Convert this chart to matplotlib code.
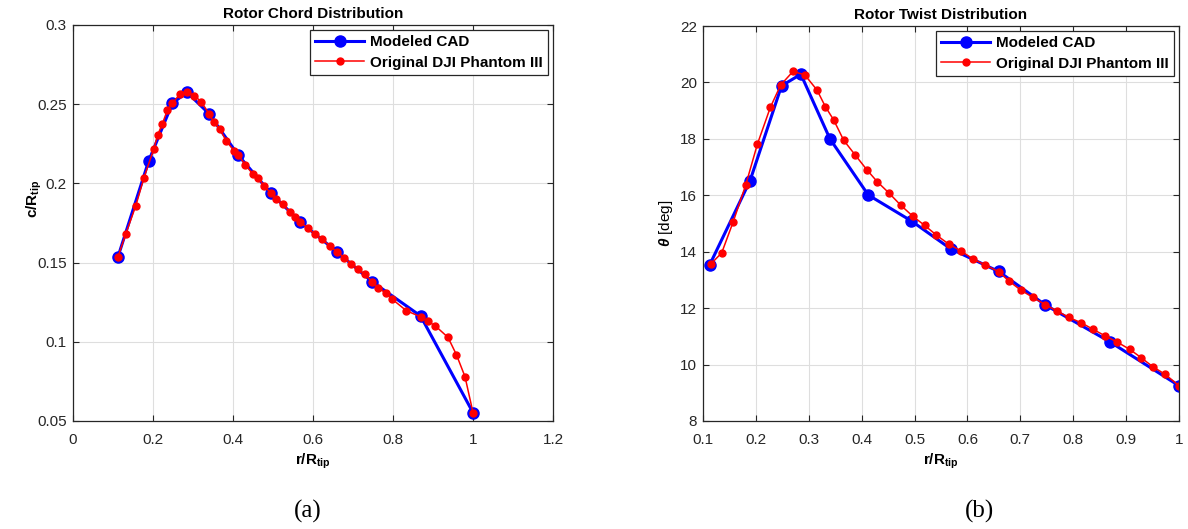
import matplotlib
matplotlib.use("Agg")
import matplotlib.pyplot as plt

plt.rcParams["font.family"] = ["Liberation Sans", "DejaVu Sans"]
plt.rcParams["mathtext.fontset"] = "custom"
plt.rcParams["mathtext.it"] = "Liberation Sans:italic:bold"
plt.rcParams["mathtext.bf"] = "Liberation Sans:bold"

# Modeled CAD stations (r/R_tip)
cad_r = [0.1125, 0.189, 0.2485, 0.285, 0.34, 0.4125, 0.494, 0.5685, 0.659, 0.7475, 0.869, 1.0]
cad_chord = [0.1537, 0.214, 0.2506, 0.2575, 0.244, 0.218, 0.194, 0.1756, 0.157, 0.138, 0.1163, 0.0553]
cad_twist = [13.53, 16.52, 19.88, 20.29, 18.0, 16.01, 15.09, 14.1, 13.3, 12.11, 10.81, 9.25]

# Original DJI Phantom III - chord
dji_r_chord = [0.1125, 0.1317, 0.1567, 0.1775, 0.2017, 0.2117, 0.2235, 0.236, 0.2485, 0.2667,
               0.285, 0.3035, 0.321, 0.34, 0.3517, 0.3667, 0.3835, 0.4025, 0.4125, 0.431,
               0.4493, 0.4635, 0.4775, 0.494, 0.5085, 0.525, 0.5418, 0.555, 0.5685, 0.5875,
               0.6043, 0.6235, 0.6418, 0.659, 0.6785, 0.696, 0.7125, 0.7293, 0.7475, 0.7635,
               0.7818, 0.7985, 0.8335, 0.869, 0.8875, 0.906, 0.9375, 0.9585, 0.98, 1.0]
dji_chord = [0.1537, 0.1679, 0.1857, 0.2036, 0.2215, 0.2306, 0.2377, 0.2463, 0.2506, 0.2562,
             0.2575, 0.2554, 0.2514, 0.244, 0.2388, 0.2345, 0.2266, 0.2207, 0.218, 0.2118,
             0.2059, 0.2034, 0.1985, 0.194, 0.19, 0.1868, 0.1818, 0.1786, 0.1756, 0.1716,
             0.1679, 0.1647, 0.1605, 0.157, 0.1531, 0.1491, 0.1458, 0.1426, 0.138, 0.1342,
             0.1306, 0.1268, 0.1196, 0.1158, 0.1129, 0.11, 0.1028, 0.0919, 0.078, 0.0553]

# Original DJI Phantom III - twist
dji_r_twist = [0.1146, 0.1354, 0.1567, 0.1807, 0.2028, 0.2274, 0.2469, 0.2702, 0.2923, 0.3156,
               0.3314, 0.3471, 0.366, 0.3881, 0.41, 0.4295, 0.4511, 0.4738, 0.4965, 0.5192,
               0.5413, 0.5646, 0.5886, 0.6105, 0.6339, 0.659, 0.6786, 0.7007, 0.7239, 0.7474,
               0.7693, 0.792, 0.8154, 0.8374, 0.8601, 0.8828, 0.9068, 0.9281, 0.9508, 0.9742, 1.0]
dji_twist = [13.56, 13.96, 15.04, 16.36, 17.81, 19.12, 19.91, 20.39, 20.27, 19.73,
             19.14, 18.67, 17.95, 17.42, 16.9, 16.48, 16.09, 15.65, 15.26, 14.93,
             14.59, 14.27, 14.02, 13.74, 13.53, 13.29, 12.96, 12.64, 12.38, 12.12,
             11.9, 11.67, 11.48, 11.25, 11.02, 10.8, 10.54, 10.25, 9.92, 9.65, 9.25]

chord_xticks = [0, 0.2, 0.4, 0.6, 0.8, 1, 1.2]
chord_yticks = [0.05, 0.1, 0.15, 0.2, 0.25, 0.3]
twist_xticks = [0.1, 0.2, 0.3, 0.4, 0.5, 0.6, 0.7, 0.8, 0.9, 1]
twist_yticks = [8, 10, 12, 14, 16, 18, 20, 22]

axis_col = "#262626"

fig = plt.figure(figsize=(11.88, 5.29), dpi=100)
ax1 = fig.add_axes([73 / 1188, 108 / 529, 480 / 1188, 396 / 529])
ax2 = fig.add_axes([703 / 1188, 108 / 529, 476 / 1188, 395 / 529])


def style(ax, xt, yt, xlim, ylim):
    ax.set_xlim(*xlim)
    ax.set_ylim(*ylim)
    ax.set_xticks(xt)
    ax.set_yticks(yt)
    ax.set_xticklabels([f"{v:g}" for v in xt])
    ax.set_yticklabels([f"{v:g}" for v in yt])
    ax.grid(True, color="#dedede", linewidth=0.8)
    ax.set_axisbelow(True)
    ax.tick_params(direction="in", top=True, right=True, labelsize=11,
                   colors=axis_col, length=4, width=0.8)
    ax.tick_params(axis="x", pad=9)
    ax.tick_params(axis="y", pad=4.5)
    for s in ax.spines.values():
        s.set_color(axis_col)
        s.set_linewidth(0.9)


# chord
ax1.plot(cad_r, cad_chord, "-o", color="blue", lw=2.2, ms=8, label="Modeled CAD")
ax1.plot(dji_r_chord, dji_chord, "-o", color="red", lw=1.1, ms=5,
         label="Original DJI Phantom III")
style(ax1, chord_xticks, chord_yticks, (0, 1.2), (0.05, 0.3))
ax1.set_title("Rotor Chord Distribution", fontsize=11, fontweight="bold", pad=5)
ax1.set_xlabel(r"r/R$_{\mathbf{tip}}$", fontsize=11, fontweight="bold")
ax1.set_ylabel(r"c/R$_{\mathbf{tip}}$", fontsize=11, fontweight="bold")
ax1.xaxis.set_label_coords(0.5, -0.078, transform=ax1.transAxes)
ax1.yaxis.set_label_coords(-0.06, 0.56, transform=ax1.transAxes)

# twist
ax2.plot(cad_r, cad_twist, "-o", color="blue", lw=2.2, ms=8, label="Modeled CAD")
ax2.plot(dji_r_twist, dji_twist, "-o", color="red", lw=1.1, ms=5,
         label="Original DJI Phantom III")
style(ax2, twist_xticks, twist_yticks, (0.1, 1.0), (8, 22))
ax2.set_title("Rotor Twist Distribution", fontsize=11, fontweight="bold", pad=5)
ax2.set_xlabel(r"r/R$_{\mathbf{tip}}$", fontsize=11, fontweight="bold")
ax2.set_ylabel(r"$\mathit{\theta}$ [deg]", fontsize=11)
ax2.xaxis.set_label_coords(0.5, -0.078, transform=ax2.transAxes)
ax2.yaxis.set_label_coords(-0.059, 0.5, transform=ax2.transAxes)

for ax in (ax1, ax2):
    leg = ax.legend(loc="upper right", fancybox=False, edgecolor=axis_col,
                    prop={"weight": "bold", "size": 11}, borderaxespad=0.3,
                    handlelength=3.2, handletextpad=0.4, borderpad=0.35,
                    labelspacing=0.45, framealpha=1)
    leg.get_frame().set_linewidth(0.9)

fig.text(308 / 1188, 1 - 511 / 529, "(a)", family="Liberation Serif", fontsize=18,
         ha="center", va="center")
fig.text(980 / 1188, 1 - 511 / 529, "(b)", family="Liberation Serif", fontsize=18,
         ha="center", va="center")

fig.savefig("out.png", dpi=100)
